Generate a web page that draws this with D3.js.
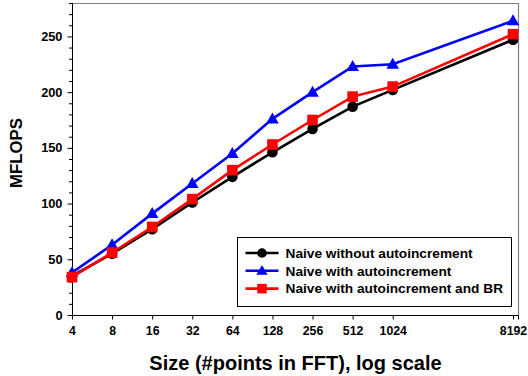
<!DOCTYPE html>
<html><head><meta charset="utf-8">
<script src="https://cdn.jsdelivr.net/npm/d3@7"></script>
<style>body{margin:0;background:#fff}svg{display:block;font-family:Arial,"Liberation Sans",sans-serif}</style>
</head><body><svg id="c" width="528" height="376"></svg>
<script>
const sizes = [4, 8, 16, 32, 64, 128, 256, 512, 1024, 8192];
const naiveWithout = [35, 55, 77, 101, 124, 146, 167, 187, 202, 247];
const naiveWith = [38, 63, 91, 118, 145, 176, 200, 223, 225, 264];
const naiveWithBR = [34, 56, 79, 104, 130, 153, 175, 196, 205, 252];
const seriesNames = ["Naive without autoincrement", "Naive with autoincrement", "Naive with autoincrement and BR"];
const yTicks = [0, 50, 100, 150, 200, 250];

const series = [
  {name: seriesNames[0], values: naiveWithout, color: "#000000", marker: "circle"},
  {name: seriesNames[1], values: naiveWith, color: "#0000ff", marker: "triangle"},
  {name: seriesNames[2], values: naiveWithBR, color: "#ff0000", marker: "square"}
];

const FF = "Arial, 'Liberation Sans', sans-serif";
const svg = d3.select("#c");
const L = 72, R = 518, T = 3, B = 315;
const x = d3.scaleLog().base(2).domain([4, 8192]).range([72, 513]);
const y = d3.scaleLinear().domain([0, 280]).range([B, T]);

// frame top/right
svg.append("line").attr("x1", L).attr("x2", R).attr("y1", T + 0.5).attr("y2", T + 0.5).attr("stroke", "#808080").attr("stroke-width", 1.2);
svg.append("line").attr("x1", R + 0.5).attr("x2", R + 0.5).attr("y1", T).attr("y2", B).attr("stroke", "#808080").attr("stroke-width", 1.2);

// y axis minor ticks
const yMinor = d3.range(0, 281, 10).filter(v => v % 50 !== 0);
svg.append("g").attr("transform", `translate(${L},0)`)
  .call(d3.axisLeft(y).tickValues(yMinor).tickSize(3).tickFormat(""))
  .call(g => g.select(".domain").remove())
  .selectAll("line").attr("stroke", "#000");
const yAx = svg.append("g").attr("transform", `translate(${L + 0.5},0)`)
  .call(d3.axisLeft(y).tickValues(yTicks).tickSize(5).tickPadding(5).tickSizeOuter(0));
yAx.select(".domain").attr("stroke", "#000").attr("d", `M0,${B}V${T}`);
yAx.selectAll("text").attr("font-size", 12.8).attr("font-weight", "bold").attr("fill", "#000").attr("font-family", FF);

// x axis
const xAx = svg.append("g").attr("transform", `translate(0,${B + 0.5})`)
  .call(d3.axisBottom(x).tickValues(sizes).tickFormat(d3.format("d")).tickSize(4).tickPadding(7).tickSizeOuter(0));
xAx.select(".domain").attr("stroke", "#000").attr("d", `M${L},0H${R + 1}`);
xAx.append("line").attr("x1", R + 0.5).attr("x2", R + 0.5).attr("y1", 0).attr("y2", 4).attr("stroke", "#000");
xAx.selectAll("text").attr("font-size", 12.3).attr("font-weight", "bold").attr("fill", "#000").attr("font-family", FF);

// titles
svg.append("text").attr("x", 295.5).attr("y", 369.5).attr("text-anchor", "middle").attr("font-family", FF)
  .attr("font-size", 20).attr("font-weight", "bold").text("Size (#points in FFT), log scale");
svg.append("text").attr("transform", "translate(21.5,153) rotate(-90)").attr("text-anchor", "middle").attr("font-family", FF)
  .attr("font-size", 16.8).attr("font-weight", "bold").text("MFLOPS");

function drawMarker(g, type, cx, cy, color, s) {
  if (type === "circle") g.append("circle").attr("cx", cx).attr("cy", cy).attr("r", 5.3 * s).attr("fill", color);
  else if (type === "triangle") g.append("path").attr("d", `M${cx},${cy - 6.5 * s}L${cx + 6.3 * s},${cy + 4.5 * s}L${cx - 6.3 * s},${cy + 4.5 * s}Z`).attr("fill", color);
  else g.append("rect").attr("x", cx - 5.3 * s).attr("y", cy - 5.3 * s).attr("width", 10.6 * s).attr("height", 10.6 * s).attr("fill", color);
}

const line = d3.line().x((d, i) => x(sizes[i])).y(d => y(d));
series.forEach(s => {
  const g = svg.append("g");
  g.append("path").datum(s.values).attr("d", line).attr("fill", "none").attr("stroke", s.color).attr("stroke-width", 2.6);
  s.values.forEach((v, i) => drawMarker(g, s.marker, x(sizes[i]), y(v), s.color, 1));
});

// legend
const lg = svg.append("g");
lg.append("rect").attr("x", 237.5).attr("y", 237.5).attr("width", 274).attr("height", 69).attr("fill", "#fff").attr("stroke", "#000").attr("stroke-width", 1);
series.forEach((s, i) => {
  const ly = 253 + i * 17.8;
  lg.append("line").attr("x1", 245.5).attr("x2", 278.5).attr("y1", ly).attr("y2", ly).attr("stroke", s.color).attr("stroke-width", 2.6);
  drawMarker(lg, s.marker, 262, ly, s.color, 0.9);
  lg.append("text").attr("x", 285.5).attr("y", ly + 4.8).attr("font-family", FF).attr("font-size", 13.7).attr("font-weight", "bold").text(s.name);
});
</script></body></html>
